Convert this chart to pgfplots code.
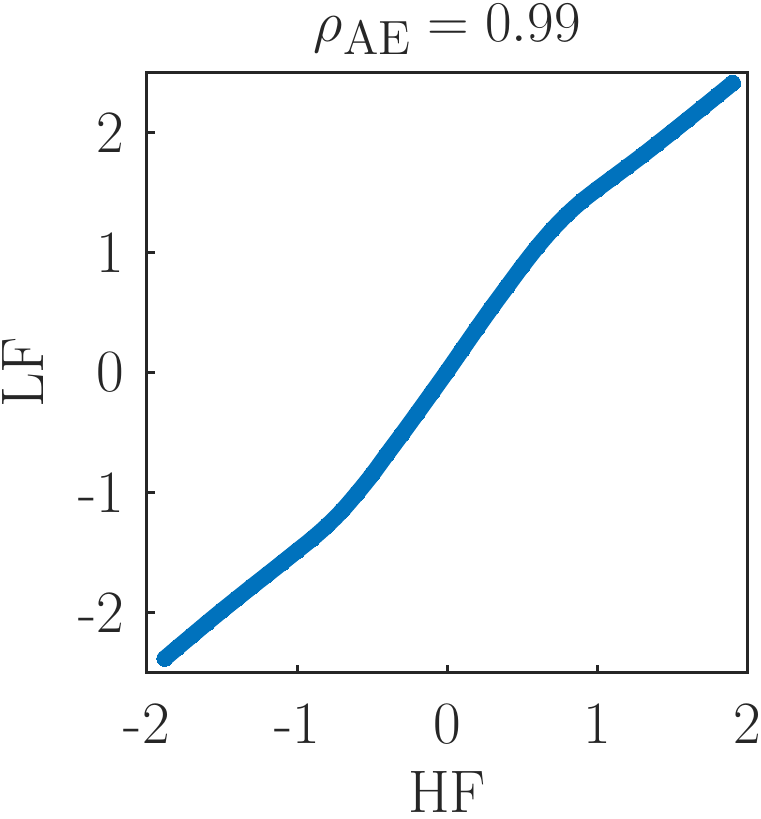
\documentclass[border=0pt]{standalone}
\usepackage{pgfplots}
\pgfplotsset{compat=1.18}
\definecolor{mblue}{RGB}{0,114,189}
\definecolor{mgray}{RGB}{38,38,38}
\begin{document}
\begin{tikzpicture}
\begin{axis}[name=ax,width=180pt,height=180pt,scale only axis,
  xmin=-2,xmax=2,ymin=-2.5,ymax=2.5,
  axis line style={mgray,line width=0.9pt},
  xtick={-2,-1,0,1,2},xticklabels={-2,-1,0,1,2},
  ytick={-2,-1,0,1,2},yticklabels={-2,-1,0,1,2},
  xtick pos=bottom,ytick pos=left,tick align=inside,
  major tick length=2.4pt,
  tick style={mgray,line width=0.9pt},
  ticklabel style={font=\fontsize{18}{21}\selectfont,text=mgray,inner sep=0pt},
  xticklabel style={yshift=-9pt},
  yticklabel style={xshift=-6.6pt},
  label style={font=\fontsize{18}{21}\selectfont,text=mgray,inner sep=0pt},
  xlabel={HF},ylabel={LF},
  xlabel style={at={(axis description cs:0.5,-0.232)},anchor=base},
  ylabel style={at={(axis description cs:-0.172,0.5)},anchor=base},
  every axis title shift=0pt,
  title={$\rho_{\mathrm{AE}}=0.99$},
  title style={font=\fontsize{19}{22}\selectfont,text=mgray,inner sep=0pt,
    at={(axis description cs:0.5,1.051)},anchor=base}]
\addplot[mblue,line width=4.8pt,line cap=round,line join=round,smooth,tension=0.5,
  mark=*,mark size=2.4pt,mark options={line width=0pt,fill=mblue,draw=mblue}] coordinates {
(-1.88,-2.38) (-1.8,-2.295) (-1.7,-2.19) (-1.6,-2.085) (-1.5,-1.982)
(-1.4,-1.882) (-1.3,-1.782) (-1.2,-1.684) (-1.1,-1.585) (-1.0,-1.485)
(-0.9,-1.385) (-0.8,-1.275) (-0.7,-1.15) (-0.6,-1.005) (-0.5,-0.85)
(-0.4,-0.679) (-0.3,-0.511) (-0.2,-0.339) (-0.1,-0.165) (0.0,0.01)
(0.1,0.19) (0.2,0.37) (0.3,0.546) (0.4,0.716) (0.5,0.885)
(0.6,1.045) (0.7,1.19) (0.8,1.318) (0.9,1.43) (1.0,1.527)
(1.1,1.62) (1.2,1.713) (1.3,1.807) (1.4,1.905) (1.5,2.004)
(1.6,2.104) (1.7,2.205) (1.8,2.306) (1.9,2.408)
};
\end{axis}
\pgfresetboundingbox
\path[use as bounding box] ([xshift=-44pt,yshift=-43.8pt]ax.south west) rectangle ([xshift=3.9pt,yshift=21.6pt]ax.north east);
\end{tikzpicture}
\end{document}
